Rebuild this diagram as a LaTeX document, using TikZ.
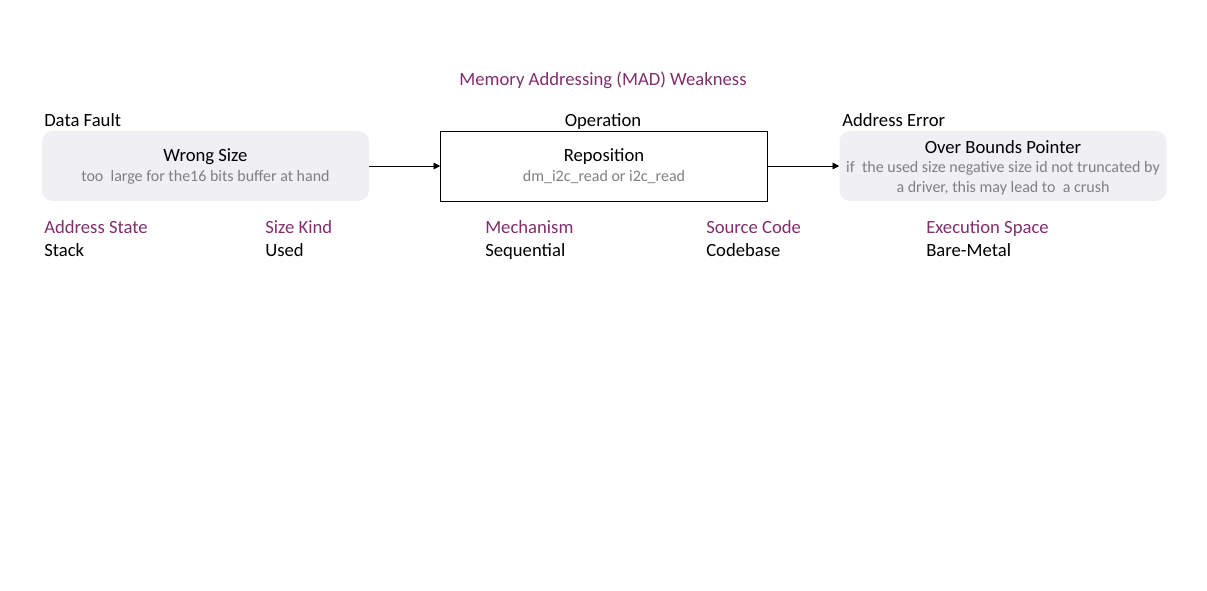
\documentclass[tikz,border=0pt]{standalone}
\usepackage{fontspec}
\setmainfont{Carlito}
\usetikzlibrary{arrows.meta}
\definecolor{madpurple}{RGB}{128,46,110}
\definecolor{subgrey}{RGB}{128,128,128}
\definecolor{boxgrey}{RGB}{240,239,244}
\begin{document}
\begin{tikzpicture}[x=0.75pt,y=-0.75pt,
		classbox/.style={minimum width=245.25pt, minimum height=52.5pt, inner sep=0pt},
		softbox/.style={classbox, fill=boxgrey, rounded corners=8pt},
		hardbox/.style={classbox, draw=black, fill=white},
		heading/.style={font=\fontsize{14}{16}\selectfont, inner sep=0pt, anchor=base},
		detail/.style={font=\fontsize{12}{15}\selectfont, text=subgrey, inner sep=0pt, align=center},
		attrname/.style={font=\fontsize{14}{16}\selectfont, text=madpurple, inner sep=0pt, anchor=base west},
		attrvalue/.style={font=\fontsize{14}{16}\selectfont, inner sep=0pt, anchor=base west},
		link/.style={-{Triangle[length=5pt,width=5pt]}, semithick}]
	\useasboundingbox (0,0) rectangle (1207,591);

	\node[heading, text=madpurple] (title) at (603,85.5) {Memory Addressing (MAD) Weakness};

	% data fault
	\node[heading, anchor=base west] (faultlbl) at (44,126.5) {Data Fault};
	\node[softbox] (fault) at (205.5,166) {};
	\node[heading] (faultname) at (205.5,162) {Wrong Size};
	\node[detail, anchor=base] (faultnote) at (205.5,181.5) {too\ \ large for the16 bits buffer at hand};

	% operation
	\node[heading] (oplbl) at (603,126.5) {Operation};
	\node[hardbox] (op) at (604,166) {};
	\node[heading] (opname) at (604,162) {Reposition};
	\node[detail, anchor=base] (opnote) at (604,181.5) {dm\_i2c\_read or i2c\_read};

	% address error
	\node[heading, anchor=base west] (errlbl) at (842,126.5) {Address Error};
	\node[softbox] (err) at (1003,166) {};
	\node[heading] (errname) at (1003,153.5) {Over Bounds Pointer};
	\node[detail] (errnote) at (1003,178) {if\ \ the used size negative size id not truncated by\\a driver, this may lead to\ \ a crush};

	\draw[link] (fault) -- (op);
	\draw[link] (op) -- (err);

	% attributes
	\node[attrname] (statelbl) at (44,233.5) {Address State};
	\node[attrvalue] (state) at (44,256.5) {Stack};
	\node[attrname] (kindlbl) at (265,233.5) {Size Kind};
	\node[attrvalue] (kind) at (265,256.5) {Used};
	\node[attrname] (mechlbl) at (485,233.5) {Mechanism};
	\node[attrvalue] (mech) at (485,256.5) {Sequential};
	\node[attrname] (srclbl) at (706,233.5) {Source Code};
	\node[attrvalue] (src) at (706,256.5) {Codebase};
	\node[attrname] (spacelbl) at (926,233.5) {Execution Space};
	\node[attrvalue] (space) at (926,256.5) {Bare-Metal};
\end{tikzpicture}
\end{document}
